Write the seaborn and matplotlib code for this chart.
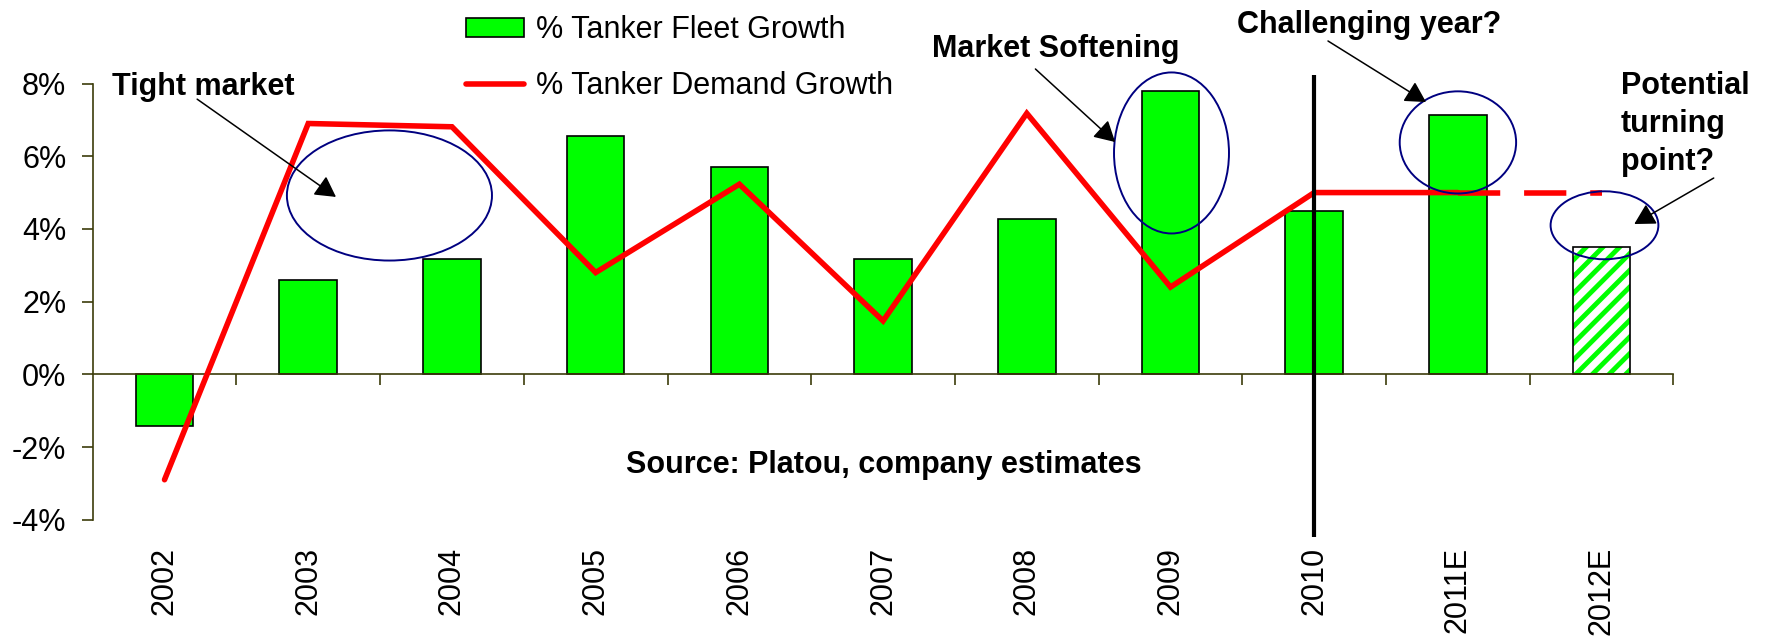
"""
Tanker fleet growth vs tanker demand growth, 2002-2012E.
Bars for fleet growth, red line for demand growth, with call-out notes.
"""

import matplotlib
matplotlib.use("Agg")
import matplotlib.pyplot as plt
from matplotlib.patches import Ellipse, Rectangle, Patch
from matplotlib.lines import Line2D
import numpy as np
import seaborn as sns


# Data (percent)
years = ["2002", "2003", "2004", "2005", "2006", "2007",
         "2008", "2009", "2010", "2011E", "2012E"]
fleet_growth = [-1.43, 2.59, 3.18, 6.57, 5.70, 3.18, 4.27, 7.79, 4.50, 7.13, 3.49]
demand_growth = [-2.9, 6.9, 6.81, 2.80, 5.23, 1.47, 7.18, 2.40, 5.0, 5.0, 5.0]
y_ticks = [-4, -2, 0, 2, 4, 6, 8]
y_tick_labels = ["-4%", "-2%", "0%", "2%", "4%", "6%", "8%"]

GREEN = "#00ff00"
RED = "#ff0000"
NAVY = "#000080"
AXIS = "#3c3c0a"
FS = 22

sns.set_style("white")
plt.rcParams["font.family"] = ["Liberation Sans", "DejaVu Sans"]
plt.rcParams["text.color"] = "black"
plt.rcParams["hatch.linewidth"] = 3.5

fig = plt.figure(figsize=(17.72, 6.41), dpi=100)
ax = fig.add_axes([0.0523, 0.1892, 0.8921, 0.6805])

# Fleet growth bars
sns.barplot(x=years, y=fleet_growth, color=GREEN, saturation=1, width=0.4,
            edgecolor="black", linewidth=1.2, ax=ax, zorder=2)

# 2012E is an estimate: hatched green on white
last = ax.patches[-1]
last.set_facecolor("white")
last.set_edgecolor(GREEN)
last.set_hatch("//")
last.set_linewidth(0)
ax.add_patch(Rectangle((last.get_x(), last.get_y()), last.get_width(), last.get_height(),
                       fill=False, edgecolor="black", linewidth=1.2, zorder=2.5))

# Demand growth line: solid to 2011E, dashed to 2012E
n_solid = years.index("2011E") + 1
sns.lineplot(x=years[:n_solid], y=demand_growth[:n_solid], sort=False, color=RED,
             linewidth=4, solid_capstyle="round", solid_joinstyle="miter", ax=ax, zorder=3)
sns.lineplot(x=years[n_solid - 1:], y=demand_growth[n_solid - 1:], sort=False, color=RED,
             linewidth=4, linestyle=(0, (7.6, 4.3)), dash_capstyle="butt", ax=ax, zorder=3)

# Divider at 2010
ax.vlines(years.index("2010"), -4.48, 8.23, color="black", linewidth=3,
          clip_on=False, zorder=4)

# Axes styling (Excel-like: category axis crossing at 0%)
ax.set_xlim(-0.5, len(years) - 0.5)
ax.set_ylim(-4, 8)
ax.set_yticks(y_ticks, labels=y_tick_labels)
ax.tick_params(axis="y", direction="out", length=8, width=1.2, color=AXIS, pad=11,
               left=True, labelsize=FS, labelcolor="black")
ax.set_xticks(np.arange(len(years)), labels=years)
ax.set_xticks(np.arange(len(years)) + 0.5, minor=True)
ax.tick_params(axis="x", which="major", length=0, pad=124, labelsize=FS,
               labelrotation=90, labelcolor="black")
ax.tick_params(axis="x", which="minor", direction="out", length=8, width=1.2,
               color=AXIS, bottom=True)
ax.spines["bottom"].set_position(("data", 0))
for side in ["top", "right"]:
    ax.spines[side].set_visible(False)
for side in ["left", "bottom"]:
    ax.spines[side].set_color(AXIS)
    ax.spines[side].set_linewidth(1.2)
ax.set_xlabel("")
ax.set_ylabel("")

# Call-out ellipses
for cx, cy, w, h in [(1.565, 4.92, 1.427, 3.58),
                     (7.007, 6.09, 0.80, 4.43),
                     (9.0, 6.38, 0.81, 2.81),
                     (10.02, 4.10, 0.75, 1.87)]:
    ax.add_patch(Ellipse((cx, cy), w, h, fill=False, edgecolor=NAVY,
                         linewidth=1.4, clip_on=False, zorder=5))

arrow = dict(arrowstyle="-|>,head_length=0.45,head_width=0.25", color="black",
             linewidth=1.1, mutation_scale=28, shrinkA=0, shrinkB=0)
# text position is the baseline of the last line
notes = [
    ("Tight market", (-0.366, 7.68), (0.227, 7.57), (1.193, 4.88)),
    ("Market Softening", (5.34, 8.73), (6.06, 8.40), (6.615, 6.39)),
    ("Challenging year?", (7.464, 9.39), (8.096, 9.17), (8.778, 7.49)),
    ("Potential\nturning\npoint?", (10.135, 5.62), (10.78, 5.40), (10.227, 4.135)),
]
for text, txt_xy, start, tip in notes:
    ax.text(*txt_xy, text, fontsize=FS, fontweight="bold", ha="left",
            va="baseline", linespacing=1.35, clip_on=False, zorder=6)
    ax.annotate("", xy=tip, xytext=start, arrowprops=arrow,
                annotation_clip=False, zorder=6)

ax.text(5.003, -2.715, "Source: Platou, company estimates", fontsize=FS,
        fontweight="bold", ha="center", va="baseline", zorder=6)

# Legend
handles = [Patch(facecolor=GREEN, edgecolor="black", linewidth=1.2),
           Line2D([], [], color=RED, linewidth=4, solid_capstyle="round")]
labels = ["% Tanker Fleet Growth", "% Tanker Demand Growth"]
fig.legend(handles, labels, loc="upper left", bbox_to_anchor=(466 / 1772, 1 - 15 / 641),
           frameon=False, fontsize=FS, handlelength=1.9, handleheight=0.56,
           handletextpad=0.4, labelspacing=0.85, borderpad=0, borderaxespad=0)

fig.savefig("out.png", dpi=100)
print("Saved: out.png")
